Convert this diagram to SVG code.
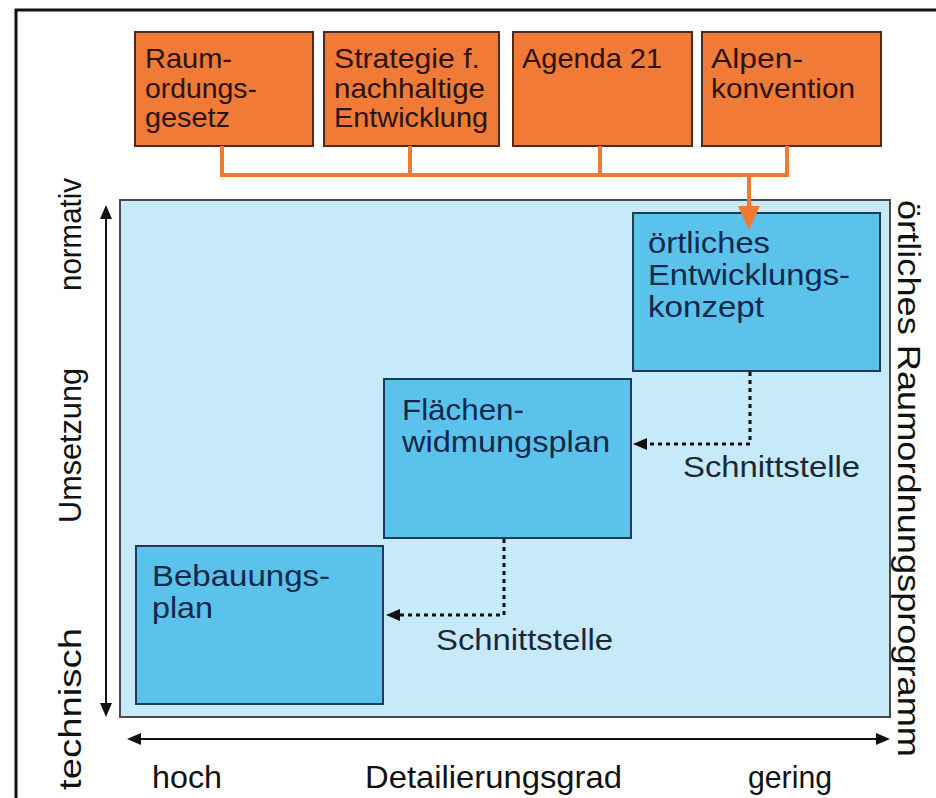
<svg xmlns="http://www.w3.org/2000/svg" width="936" height="798" viewBox="0 0 936 798">
<defs>
<marker id="ah" markerUnits="userSpaceOnUse" markerWidth="14" markerHeight="12" viewBox="0 0 14 12" refX="4" refY="6" orient="auto-start-reverse"><path d="M0,0 L14,6 L0,12 z" fill="#111"/></marker>
<marker id="ao" markerUnits="userSpaceOnUse" markerWidth="24" markerHeight="22" viewBox="0 0 24 22" refX="14" refY="11" orient="auto"><path d="M0,0 L24,11 L0,22 z" fill="#F07A30"/></marker>
</defs>
<style>
text{font-family:"Liberation Sans",Arial,sans-serif}
.ob{fill:#F07A36;stroke:#4a2c1c;stroke-width:2}
.ot{font-size:28px;fill:#2a1408}
.bb{fill:#5BC2EC;stroke:#1d3a56;stroke-width:2}
.bt{font-size:30px;fill:#10284a}
.ax{font-size:32px;fill:#111}
.st{font-size:30px;fill:#1c2838}
.oc{fill:none;stroke:#F07A30;stroke-width:4}
.dc{fill:none;stroke:#111;stroke-width:3;stroke-dasharray:4 4}
.axl{fill:none;stroke:#111;stroke-width:2}
</style>
<rect x="0" y="0" width="936" height="798" fill="#fff"/>
<path d="M16,798 V10 H936" fill="none" stroke="#111" stroke-width="3"/>

<g id="raumordnungsprogramm">
<rect x="120" y="200" width="770" height="517" fill="#C6EAF9" stroke="#4a4a4a" stroke-width="2"/>
<text class="ax" transform="translate(898,200) rotate(90)" textLength="557" lengthAdjust="spacingAndGlyphs">örtliches Raumordnungsprogramm</text>
</g>

<g id="raumordnungsgesetz">
<rect class="ob" x="135" y="32" width="178" height="114"/>
<text class="ot"><tspan x="145" y="68" textLength="87" lengthAdjust="spacingAndGlyphs">Raum-</tspan><tspan x="145" y="98" textLength="112" lengthAdjust="spacingAndGlyphs">ordungs-</tspan><tspan x="145" y="127" textLength="85" lengthAdjust="spacingAndGlyphs">gesetz</tspan></text>
</g>
<g id="strategie">
<rect class="ob" x="324" y="32" width="175" height="114"/>
<text class="ot"><tspan x="334" y="68" textLength="146" lengthAdjust="spacingAndGlyphs">Strategie f.</tspan><tspan x="334" y="98" textLength="151" lengthAdjust="spacingAndGlyphs">nachhaltige</tspan><tspan x="334" y="127" textLength="154" lengthAdjust="spacingAndGlyphs">Entwicklung</tspan></text>
</g>
<g id="agenda21">
<rect class="ob" x="513" y="32" width="179" height="114"/>
<text class="ot"><tspan x="522" y="68" textLength="140" lengthAdjust="spacingAndGlyphs">Agenda 21</tspan></text>
</g>
<g id="alpenkonvention">
<rect class="ob" x="702" y="32" width="179" height="114"/>
<text class="ot"><tspan x="711" y="68" textLength="92" lengthAdjust="spacingAndGlyphs">Alpen-</tspan><tspan x="711" y="98" textLength="144" lengthAdjust="spacingAndGlyphs">konvention</tspan></text>
</g>

<g id="entwicklungskonzept">
<rect class="bb" x="633" y="213" width="247" height="158"/>
<text class="bt"><tspan x="648" y="253" textLength="122" lengthAdjust="spacingAndGlyphs">örtliches</tspan><tspan x="648" y="285" textLength="202" lengthAdjust="spacingAndGlyphs">Entwicklungs-</tspan><tspan x="648" y="317" textLength="116" lengthAdjust="spacingAndGlyphs">konzept</tspan></text>
</g>
<g id="flaechenwidmungsplan">
<rect class="bb" x="384" y="379" width="247" height="159"/>
<text class="bt"><tspan x="402" y="420" textLength="122" lengthAdjust="spacingAndGlyphs">Flächen-</tspan><tspan x="402" y="452" textLength="208" lengthAdjust="spacingAndGlyphs">widmungsplan</tspan></text>
</g>
<g id="bebauungsplan">
<rect class="bb" x="136" y="546" width="247" height="158"/>
<text class="bt"><tspan x="152" y="586" textLength="178" lengthAdjust="spacingAndGlyphs">Bebauungs-</tspan><tspan x="152" y="618" textLength="61" lengthAdjust="spacingAndGlyphs">plan</tspan></text>
</g>

<g id="connectors">
<path class="oc" d="M222,146 V175 H787 V146 M410,146 V175 M600,146 V175"/>
<path class="oc" d="M749,175 V220" marker-end="url(#ao)"/>
<path class="dc" d="M750,372 V444 H643" marker-end="url(#ah)"/>
<path class="dc" d="M504,539 V615 H396" marker-end="url(#ah)"/>
<text class="st" x="683" y="477" textLength="177" lengthAdjust="spacingAndGlyphs">Schnittstelle</text>
<text class="st" x="436" y="650" textLength="177" lengthAdjust="spacingAndGlyphs">Schnittstelle</text>
</g>

<g id="axes">
<line class="axl" x1="106" y1="215" x2="106" y2="707" marker-start="url(#ah)" marker-end="url(#ah)"/>
<line class="axl" x1="137" y1="739" x2="880" y2="739" marker-start="url(#ah)" marker-end="url(#ah)"/>
<text class="ax" transform="translate(81,291) rotate(-90)" textLength="113" lengthAdjust="spacingAndGlyphs">normativ</text>
<text class="ax" transform="translate(81,523) rotate(-90)" textLength="155" lengthAdjust="spacingAndGlyphs">Umsetzung</text>
<text class="ax" transform="translate(81,790) rotate(-90)" textLength="162" lengthAdjust="spacingAndGlyphs">technisch</text>
<text class="ax" x="152" y="788" textLength="70" lengthAdjust="spacingAndGlyphs">hoch</text>
<text class="ax" x="365" y="788" textLength="257" lengthAdjust="spacingAndGlyphs">Detailierungsgrad</text>
<text class="ax" x="748" y="788" textLength="84" lengthAdjust="spacingAndGlyphs">gering</text>
</g>
</svg>
